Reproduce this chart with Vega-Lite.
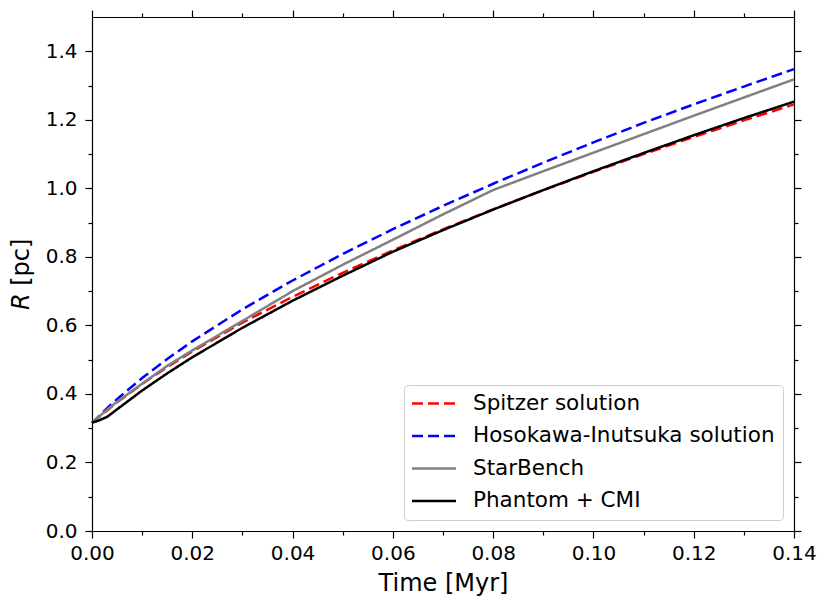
{
  "$schema": "https://vega.github.io/schema/vega-lite/v6.json",
  "width": 702,
  "height": 514,
  "autosize": {"type": "none"},
  "padding": {"left": 92, "top": 17, "right": 37, "bottom": 78},
  "background": "white",
  "data": {
    "values": [
      {"series": "Spitzer solution", "t": 0.0, "R": 0.315},
      {"series": "Spitzer solution", "t": 0.0025, "R": 0.346},
      {"series": "Spitzer solution", "t": 0.005, "R": 0.3755},
      {"series": "Spitzer solution", "t": 0.01, "R": 0.4294},
      {"series": "Spitzer solution", "t": 0.015, "R": 0.4787},
      {"series": "Spitzer solution", "t": 0.02, "R": 0.524},
      {"series": "Spitzer solution", "t": 0.03, "R": 0.608},
      {"series": "Spitzer solution", "t": 0.04, "R": 0.6835},
      {"series": "Spitzer solution", "t": 0.05, "R": 0.7534},
      {"series": "Spitzer solution", "t": 0.06, "R": 0.8187},
      {"series": "Spitzer solution", "t": 0.07, "R": 0.8803},
      {"series": "Spitzer solution", "t": 0.08, "R": 0.9388},
      {"series": "Spitzer solution", "t": 0.09, "R": 0.9946},
      {"series": "Spitzer solution", "t": 0.1, "R": 1.0482},
      {"series": "Spitzer solution", "t": 0.11, "R": 1.0999},
      {"series": "Spitzer solution", "t": 0.12, "R": 1.1498},
      {"series": "Spitzer solution", "t": 0.13, "R": 1.1982},
      {"series": "Spitzer solution", "t": 0.14, "R": 1.245},
      {"series": "Hosokawa-Inutsuka solution", "t": 0.0, "R": 0.315},
      {"series": "Hosokawa-Inutsuka solution", "t": 0.0025, "R": 0.3513},
      {"series": "Hosokawa-Inutsuka solution", "t": 0.005, "R": 0.385},
      {"series": "Hosokawa-Inutsuka solution", "t": 0.01, "R": 0.4465},
      {"series": "Hosokawa-Inutsuka solution", "t": 0.015, "R": 0.502},
      {"series": "Hosokawa-Inutsuka solution", "t": 0.02, "R": 0.5535},
      {"series": "Hosokawa-Inutsuka solution", "t": 0.03, "R": 0.6469},
      {"series": "Hosokawa-Inutsuka solution", "t": 0.04, "R": 0.731},
      {"series": "Hosokawa-Inutsuka solution", "t": 0.05, "R": 0.8085},
      {"series": "Hosokawa-Inutsuka solution", "t": 0.06, "R": 0.8808},
      {"series": "Hosokawa-Inutsuka solution", "t": 0.07, "R": 0.9488},
      {"series": "Hosokawa-Inutsuka solution", "t": 0.08, "R": 1.0134},
      {"series": "Hosokawa-Inutsuka solution", "t": 0.09, "R": 1.075},
      {"series": "Hosokawa-Inutsuka solution", "t": 0.1, "R": 1.134},
      {"series": "Hosokawa-Inutsuka solution", "t": 0.11, "R": 1.191},
      {"series": "Hosokawa-Inutsuka solution", "t": 0.12, "R": 1.245},
      {"series": "Hosokawa-Inutsuka solution", "t": 0.13, "R": 1.297},
      {"series": "Hosokawa-Inutsuka solution", "t": 0.14, "R": 1.348},
      {"series": "StarBench", "t": 0.0, "R": 0.315},
      {"series": "StarBench", "t": 0.0025, "R": 0.348},
      {"series": "StarBench", "t": 0.005, "R": 0.377},
      {"series": "StarBench", "t": 0.01, "R": 0.43},
      {"series": "StarBench", "t": 0.015, "R": 0.482},
      {"series": "StarBench", "t": 0.02, "R": 0.527},
      {"series": "StarBench", "t": 0.03, "R": 0.613},
      {"series": "StarBench", "t": 0.04, "R": 0.7},
      {"series": "StarBench", "t": 0.05, "R": 0.777},
      {"series": "StarBench", "t": 0.06, "R": 0.85},
      {"series": "StarBench", "t": 0.07, "R": 0.924},
      {"series": "StarBench", "t": 0.08, "R": 0.995},
      {"series": "StarBench", "t": 0.09, "R": 1.05},
      {"series": "StarBench", "t": 0.1, "R": 1.104},
      {"series": "StarBench", "t": 0.11, "R": 1.158},
      {"series": "StarBench", "t": 0.12, "R": 1.212},
      {"series": "StarBench", "t": 0.13, "R": 1.265},
      {"series": "StarBench", "t": 0.14, "R": 1.318},
      {"series": "Phantom + CMI", "t": 0.0, "R": 0.316},
      {"series": "Phantom + CMI", "t": 0.0013, "R": 0.322},
      {"series": "Phantom + CMI", "t": 0.003, "R": 0.333},
      {"series": "Phantom + CMI", "t": 0.005, "R": 0.355},
      {"series": "Phantom + CMI", "t": 0.01, "R": 0.41},
      {"series": "Phantom + CMI", "t": 0.015, "R": 0.46},
      {"series": "Phantom + CMI", "t": 0.02, "R": 0.507},
      {"series": "Phantom + CMI", "t": 0.03, "R": 0.593},
      {"series": "Phantom + CMI", "t": 0.04, "R": 0.672},
      {"series": "Phantom + CMI", "t": 0.05, "R": 0.745},
      {"series": "Phantom + CMI", "t": 0.06, "R": 0.815},
      {"series": "Phantom + CMI", "t": 0.07, "R": 0.878},
      {"series": "Phantom + CMI", "t": 0.08, "R": 0.938},
      {"series": "Phantom + CMI", "t": 0.09, "R": 0.995},
      {"series": "Phantom + CMI", "t": 0.1, "R": 1.05},
      {"series": "Phantom + CMI", "t": 0.11, "R": 1.103},
      {"series": "Phantom + CMI", "t": 0.12, "R": 1.155},
      {"series": "Phantom + CMI", "t": 0.13, "R": 1.205},
      {"series": "Phantom + CMI", "t": 0.14, "R": 1.253}
    ]
  },
  "encoding": {
    "color": {
      "field": "series",
      "type": "nominal",
      "scale": {
        "domain": ["Spitzer solution", "Hosokawa-Inutsuka solution", "StarBench", "Phantom + CMI"],
        "range": ["#ff0000", "#0000ff", "#808080", "#000000"]
      },
      "legend": {"title": null}
    },
    "strokeDash": {
      "field": "series",
      "type": "nominal",
      "scale": {
        "domain": ["Spitzer solution", "Hosokawa-Inutsuka solution", "StarBench", "Phantom + CMI"],
        "range": [[11, 5], [11, 5], [1, 0], [1, 0]]
      },
      "legend": {"title": null}
    }
  },
  "layer": [
    {
      "transform": [{"filter": "datum.series == 'Spitzer solution'"}],
      "mark": {"type": "line", "strokeWidth": 2.5},
      "encoding": {
        "x": {
          "field": "t", "type": "quantitative", "title": "Time [Myr]",
          "scale": {"domain": [0, 0.14], "nice": false, "zero": false},
          "axis": {"orient": "bottom", "values": [0, 0.02, 0.04, 0.06, 0.08, 0.1, 0.12, 0.14], "format": ".2f", "labelFlush": false, "tickSize": 7, "labelPadding": 5, "titlePadding": 8}
        },
        "y": {
          "field": "R", "type": "quantitative", "title": "𝘙 [pc]",
          "scale": {"domain": [0, 1.5], "nice": false, "zero": false},
          "axis": {"orient": "left", "values": [0, 0.2, 0.4, 0.6, 0.8, 1.0, 1.2, 1.4], "format": ".1f", "labelFlush": false, "tickSize": 7, "labelPadding": 8, "titlePadding": 12}
        }
      }
    },
    {
      "transform": [{"filter": "datum.series == 'Hosokawa-Inutsuka solution'"}],
      "mark": {"type": "line", "strokeWidth": 2.5},
      "encoding": {
        "x": {
          "field": "t", "type": "quantitative",
          "axis": {"orient": "top", "values": [0, 0.02, 0.04, 0.06, 0.08, 0.1, 0.12, 0.14], "labels": false, "title": null, "tickSize": 7}
        },
        "y": {
          "field": "R", "type": "quantitative",
          "axis": {"orient": "right", "values": [0, 0.2, 0.4, 0.6, 0.8, 1.0, 1.2, 1.4], "labels": false, "title": null, "tickSize": 7}
        }
      }
    },
    {
      "transform": [{"filter": "datum.series == 'StarBench'"}],
      "mark": {"type": "line", "strokeWidth": 2.5},
      "encoding": {
        "x": {
          "field": "t", "type": "quantitative",
          "axis": {"orient": "bottom", "values": [0.01, 0.03, 0.05, 0.07, 0.09, 0.11, 0.13], "labels": false, "domain": false, "title": null, "tickSize": 4}
        },
        "y": {
          "field": "R", "type": "quantitative",
          "axis": {"orient": "left", "values": [0.1, 0.3, 0.5, 0.7, 0.9, 1.1, 1.3], "labels": false, "domain": false, "title": null, "tickSize": 4}
        }
      }
    },
    {
      "transform": [{"filter": "datum.series == 'Phantom + CMI'"}],
      "mark": {"type": "line", "strokeWidth": 2.5},
      "encoding": {
        "x": {
          "field": "t", "type": "quantitative",
          "axis": {"orient": "top", "values": [0.01, 0.03, 0.05, 0.07, 0.09, 0.11, 0.13], "labels": false, "domain": false, "title": null, "tickSize": 4}
        },
        "y": {
          "field": "R", "type": "quantitative",
          "axis": {"orient": "right", "values": [0.1, 0.3, 0.5, 0.7, 0.9, 1.1, 1.3], "labels": false, "domain": false, "title": null, "tickSize": 4}
        }
      }
    }
  ],
  "resolve": {"axis": {"x": "independent", "y": "independent"}},
  "config": {
    "view": {"stroke": null},
    "font": "DejaVu Sans",
    "axis": {
      "grid": false,
      "domainColor": "#000000",
      "domainWidth": 1.2,
      "tickColor": "#000000",
      "tickWidth": 1.2,
      "labelColor": "#000000",
      "labelFont": "DejaVu Sans",
      "labelFontSize": 20,
      "titleColor": "#000000",
      "titleFont": "DejaVu Sans",
      "titleFontSize": 24,
      "titleFontWeight": "normal"
    },
    "legend": {
      "orient": "bottom-right",
      "offset": 11,
      "labelFont": "DejaVu Sans",
      "labelFontSize": 21.5,
      "labelColor": "#000000",
      "labelLimit": 400,
      "symbolType": "stroke",
      "symbolSize": 1936,
      "symbolStrokeWidth": 2.5,
      "strokeColor": "#cccccc",
      "fillColor": "#ffffff",
      "cornerRadius": 4,
      "padding": 8,
      "clipHeight": 21,
      "rowPadding": 10.5,
      "symbolOffset": -1.5,
      "labelOffset": 15.5
    }
  }
}
